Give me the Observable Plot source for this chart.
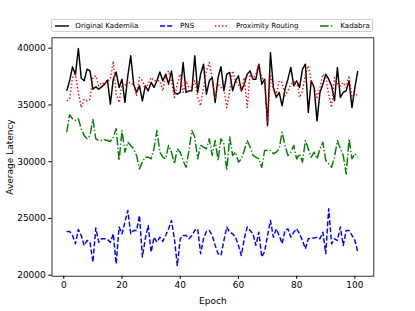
<!DOCTYPE html>
<html>
<head>
<meta charset="utf-8">
<script src="https://cdn.jsdelivr.net/npm/d3@7"></script>
<script src="https://cdn.jsdelivr.net/npm/@observablehq/plot@0.6"></script>
<style>
  html, body { margin: 0; padding: 0; background: #fff; }
  #wrap { position: relative; width: 415px; height: 311px; font-family: "DejaVu Sans", sans-serif; }
  #legend {
    position: absolute; left: 51.3px; top: 19.3px; width: 322px; height: 12.6px;
    box-sizing: border-box; border: 0.8px solid #d0d0d0; border-radius: 2px; background: rgba(255,255,255,0.8);
    display: flex; justify-content: space-between; align-items: center;
    padding: 0 2.5px 0 2.5px; font-family: "DejaVu Sans", sans-serif; font-size: 7.1px; color: #000; z-index: 2;
  }
  #legend .item { display: flex; align-items: center; white-space: nowrap; }
  #legend svg { margin-right: 6.5px; }
  #chart { position: absolute; left: 0; top: 0; }
</style>
</head>
<body>
<div id="wrap">
  <div id="legend"></div>
  <div id="chart"></div>
</div>
<script>
const seriesNames = ["Original Kademlia", "PNS", "Proximity Routing", "Kadabra"];
const seriesColors = ["#000000", "#0000ff", "#ff0000", "#008000"];
const seriesDash = [null, "5,2.2", "1.35,2.2", "8.6,2.2,1.35,2.2"];
const xTicks = [0, 20, 40, 60, 80, 100];
const yTicks = [20000, 25000, 30000, 35000, 40000];

const originalKademlia = [
  36240, 37125, 38360, 37655, 39970, 37355, 37125, 38150, 38000, 36390,
  36590, 36390, 36590, 36830, 37180, 35070, 37270, 37900, 36540, 37270,
  35215, 37570, 39330, 36830, 36100, 36680, 35360, 36680, 36240, 36980,
  36540, 37125, 37900, 37125, 37710, 36830, 38000, 36100, 35950, 36100,
  38740, 36100, 36240, 36240, 39330, 36100, 37710, 38590, 35950, 37125,
  37420, 35215, 37420, 38360, 36240, 37710, 37860, 36240, 37125, 37570,
  36240, 36830, 37710, 38000, 37270, 37270, 38590, 36830, 37270, 33160,
  39620, 36540, 35660, 36100, 34920, 36390, 37270, 38300, 36680, 37125,
  36540, 38150, 38590, 34330, 37125, 36540, 33600, 36100, 36830, 37710,
  37270, 36680, 35360, 38300, 35660, 36100, 36240, 37125, 34770, 36540,
  38000
];
const pns = [
  23850, 23850, 23500, 22770, 24030, 23500, 22620, 23060, 22910, 21150,
  24150, 22910, 23210, 23210, 23150, 22910, 23650, 21000, 24240, 23650,
  24670, 25700, 23650, 23940, 23940, 25260, 21600, 23210, 24380, 22030,
  23350, 22910, 23350, 22980, 23500, 24090, 24820, 23210, 20850, 23210,
  23500, 23500, 23210, 23500, 23940, 24090, 21890, 23210, 23850, 23940,
  23500, 22620, 21890, 21740, 23060, 24240, 23790, 23650, 23350, 22620,
  21740, 23210, 24240, 23940, 23650, 22620, 23790, 21600, 22100, 23500,
  24820, 23350, 24090, 23500, 22770, 23940, 24090, 23350, 23790, 24090,
  23650, 23060, 22330, 23210, 23270, 23270, 23350, 23210, 23790, 21890,
  25850, 22770, 23210, 23060, 24240, 22620, 23940, 23940, 23500, 23060,
  22030
];
const proximityRouting = [
  35360, 35510, 37420, 37710, 36100, 34770, 35510, 35360, 35510, 37420,
  37570, 36680, 36980, 36830, 37125, 37270, 38850, 35950, 35215, 36830,
  36680, 37125, 36830, 36830, 35800, 37420, 37125, 36390, 36830, 37420,
  37125, 37125, 37125, 36240, 37570, 38000, 37125, 35660, 36830, 37710,
  36100, 37125, 36540, 36540, 37125, 35660, 34920, 36540, 38000, 38740,
  37270, 35510, 36830, 36540, 36390, 34770, 36240, 38000, 37125, 36830,
  36240, 37420, 34770, 37710, 37270, 37710, 38590, 37420, 37125, 33600,
  37570, 36390, 35950, 37125, 36980, 35800, 36240, 36830, 36980, 37125,
  35660, 36240, 37710, 38450, 37125, 36540, 35660, 36540, 37710, 37420,
  35950, 34770, 37420, 36830, 36680, 36980, 36540, 37570, 35660, 35800,
  35950
];
const kadabra = [
  32600, 34130, 33780, 33630, 33780, 32900, 32310, 32020, 32310, 33720,
  32020, 31870, 31870, 31930, 31870, 31780, 32170, 32900, 30100, 32750,
  30840, 31720, 31430, 31140, 30550, 29370, 29960, 30400, 30400, 30250,
  31140, 32750, 30840, 30400, 30250, 31430, 30840, 29810, 31140, 30840,
  30100, 29510, 30990, 32750, 32170, 30250, 31430, 31290, 31140, 32020,
  30550, 31870, 30100, 32020, 31580, 29220, 32170, 30550, 30840, 29960,
  30250, 30990, 31870, 31290, 30550, 30400, 30250, 29510, 30990, 31000,
  30990, 30700, 30840, 31140, 32600, 31430, 30550, 30840, 31430, 30250,
  30700, 29960, 31870, 31140, 30400, 30840, 30250, 31140, 31720, 30100,
  29810, 29510, 30400, 31870, 31140, 30550, 28930, 32020, 30250, 30700,
  30400
];

const allSeries = [originalKademlia, pns, proximityRouting, kadabra];
const rows = allSeries.flatMap((vals, s) =>
  vals.map((v, i) => ({epoch: i + 1, latency: v, series: seriesNames[s]}))
);

const marks = seriesNames.map((name, s) =>
  Plot.line(rows.filter(d => d.series === name), {
    x: "epoch", y: "latency",
    stroke: seriesColors[s], strokeWidth: 1.45,
    strokeDasharray: seriesDash[s] || undefined,
    strokeLinecap: "butt", strokeLinejoin: "round"
  })
);

const chart = Plot.plot({
  width: 415, height: 311,
  marginLeft: 51.5, marginRight: 41.7, marginTop: 37.3, marginBottom: 35.3,
  style: {fontFamily: "DejaVu Sans, sans-serif", fontSize: "9px", background: "#fff", overflow: "visible"},
  x: {domain: [-4.05, 106.5], ticks: xTicks, tickSize: 3.2, tickPadding: 2.2,
      label: "Epoch", labelAnchor: "center", labelArrow: "none", labelOffset: 27.5},
  y: {domain: [19912, 40915], ticks: yTicks, tickSize: 3.2, tickPadding: 3,
      label: "Average Latency", labelAnchor: "center", labelArrow: "none", labelOffset: 45,
      tickFormat: d => String(d)},
  marks: [
    ...marks,
    Plot.frame({stroke: "#000", strokeWidth: 0.8})
  ]
});
document.getElementById("chart").appendChild(chart);

const legend = document.getElementById("legend");
seriesNames.forEach((name, s) => {
  const item = document.createElement("div");
  item.className = "item";
  const dash = seriesDash[s] ? ` stroke-dasharray="${seriesDash[s]}"` : "";
  item.innerHTML = `<svg width="14" height="4"><line x1="0" y1="2" x2="14" y2="2" stroke="${seriesColors[s]}" stroke-width="1.4"${dash}/></svg><span>${name}</span>`;
  legend.appendChild(item);
});
</script>
</body>
</html>
